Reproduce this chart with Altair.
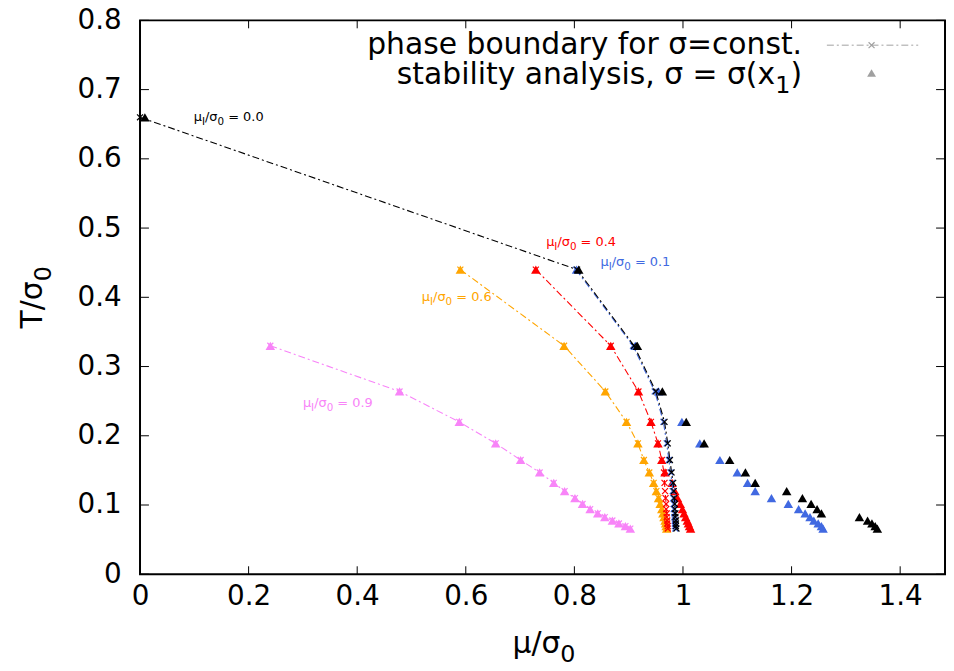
import altair as alt
import pandas as pd

# ---------------- data ----------------
X_TICKS = [0, 0.2, 0.4, 0.6, 0.8, 1.0, 1.2, 1.4]
Y_TICKS = [0, 0.1, 0.2, 0.3, 0.4, 0.5, 0.6, 0.7, 0.8]

# temperature levels T/sigma0
T_BLACK = [0.66, 0.44, 0.33, 0.264, 0.22, 0.189, 0.165, 0.147, 0.132, 0.12, 0.11,
           0.1015, 0.094, 0.088, 0.0825, 0.0776, 0.0733, 0.0695, 0.066]
T_MAIN = [0.44, 0.33, 0.264, 0.22, 0.189, 0.165, 0.147, 0.132, 0.12, 0.11,
          0.1015, 0.094, 0.088, 0.0825, 0.0776, 0.0733, 0.0695, 0.066]
T_VIOLET = [0.33, 0.264, 0.22, 0.189, 0.165, 0.147, 0.132, 0.12, 0.11,
            0.1015, 0.094, 0.088, 0.0825, 0.0776, 0.0733, 0.0695, 0.066]

# mu_I/sigma0 = 0.0 (black)
B00_X = [0.0, 0.805, 0.910, 0.950, 0.966, 0.972, 0.976, 0.979, 0.982, 0.983, 0.984,
         0.985, 0.985, 0.986, 0.986, 0.987, 0.987, 0.987, 0.988]
S00_X = [0.009, 0.808, 0.916, 0.962, 1.006, 1.039, 1.086, 1.115, 1.133, 1.191, 1.220,
         1.236, 1.247, 1.255, 1.325, 1.340, 1.348, 1.354, 1.358]
# mu_I/sigma0 = 0.1 (blue)
B01_X = [0.803, 0.908, 0.948, 0.964, 0.970, 0.974, 0.977, 0.980, 0.981, 0.982,
         0.983, 0.983, 0.984, 0.984, 0.985, 0.985, 0.985, 0.986]
S01_X = [0.804, 0.912, 0.955, 0.998, 1.031, 1.068, 1.100, 1.119, 1.133, 1.163,
         1.194, 1.213, 1.225, 1.234, 1.241, 1.249, 1.255, 1.258]
# mu_I/sigma0 = 0.4 (red)
B04_X = [0.729, 0.867, 0.918, 0.941, 0.954, 0.961, 0.965, 0.966, 0.967, 0.968,
         0.969, 0.969, 0.970, 0.970, 0.971, 0.971, 0.972, 0.972]
S04_X = [0.729, 0.867, 0.918, 0.941, 0.954, 0.961, 0.967, 0.980, 0.985, 0.990,
         0.995, 0.999, 1.002, 1.005, 1.008, 1.010, 1.012, 1.014]
# mu_I/sigma0 = 0.6 (orange)
B06_X = [0.590, 0.781, 0.857, 0.896, 0.917, 0.928, 0.938, 0.946, 0.951, 0.955,
         0.958, 0.961, 0.963, 0.965, 0.967, 0.968, 0.969, 0.970]
S06_X = [0.590, 0.781, 0.857, 0.896, 0.917, 0.928, 0.938, 0.946, 0.951, 0.955,
         0.958, 0.961, 0.963, 0.965, 0.967, 0.968, 0.969, 0.970]
# mu_I/sigma0 = 0.9 (violet)
B09_X = [0.240, 0.478, 0.588, 0.655, 0.701, 0.736, 0.762, 0.782, 0.801, 0.815,
         0.829, 0.843, 0.856, 0.870, 0.882, 0.894, 0.903]
S09_X = [0.240, 0.478, 0.588, 0.655, 0.701, 0.736, 0.762, 0.782, 0.801, 0.815,
         0.829, 0.843, 0.856, 0.870, 0.882, 0.894, 0.903]

SERIES = ["0.9", "0.6", "0.4", "0.1", "0.0"]          # drawing order
COLORS = {"0.0": "#000000", "0.1": "#4169e1", "0.4": "#ff0000",
          "0.6": "#ffa500", "0.9": "#f884f8"}
SERIES_DATA = {
    "0.0": (T_BLACK, B00_X, S00_X),
    "0.1": (T_MAIN, B01_X, S01_X),
    "0.4": (T_MAIN, B04_X, S04_X),
    "0.6": (T_MAIN, B06_X, S06_X),
    "0.9": (T_VIOLET, B09_X, S09_X),
}

# curve labels (left/baseline anchor in data units)
LABEL_VAL = ["0.0", "0.4", "0.1", "0.6", "0.9"]
LABEL_X = [0.099, 0.748, 0.848, 0.519, 0.300]
LABEL_Y = [0.655, 0.4735, 0.445, 0.395, 0.242]

LEGEND_TEXT_1 = "phase boundary for σ=const."
LEGEND_TEXT_2 = [("stability analysis, σ = σ(x", False), ("1", True), (")", False)]

# ---------------- layout ----------------
W, H = 811, 558
XMAX = 1.4826
FONT = "DejaVu Sans"
SUB = 0.8
DASH = [7, 3, 2, 3]
CROSS = "M-1,-1L1,1M-1,1L1,-1"
TOP = 10  # plot top = 8 + TOP

xs = alt.Scale(domain=[0, XMAX], nice=False, zero=False)
ys = alt.Scale(domain=[0, 0.8], nice=False, zero=False)
xaxis = alt.Axis(values=X_TICKS, format="~g", title=None, labelFont=FONT, labelFontSize=28,
                 labelColor="black", ticks=False, domain=False, grid=False, labelPadding=8,
                 labelFlush=False, labelOverlap=False)
yaxis = alt.Axis(values=Y_TICKS, format="~g", title=None, labelFont=FONT, labelFontSize=28,
                 labelColor="black", ticks=False, domain=False, grid=False, labelPadding=19,
                 labelFlush=False, labelOverlap=False)


def X(f):
    return alt.X(f, scale=xs, axis=xaxis)


def Y(f):
    return alt.Y(f, scale=ys, axis=yaxis)


CW = {" ": .318, ".": .318, "/": .337, "=": .838, "(": .390, ")": .390, ",": .318,
      "μ": .635, "σ": .635, "T": .611, "I": .295,
      "a": .613, "b": .635, "c": .550, "d": .635, "e": .615, "f": .352, "g": .635,
      "h": .634, "i": .278, "j": .278, "k": .579, "l": .278, "m": .974, "n": .634,
      "o": .612, "p": .635, "q": .635, "r": .411, "s": .521, "t": .392, "u": .634,
      "v": .592, "w": .818, "x": .592, "y": .592, "z": .525}


def tw(s):
    return sum(CW.get(c, .636) for c in s)


def rich(parts, size, color, align, enc, data, angle=0):
    widths = [tw(t) * size * (SUB if sub else 1) for t, sub in parts]
    total = sum(widths)
    off = {"left": 0, "center": -total / 2, "right": -total}[align]
    out = []
    for (t, sub), w in zip(parts, widths):
        fs = size * (SUB if sub else 1)
        stripped = t.lstrip(" ")
        lead = tw(t[: len(t) - len(stripped)]) * fs
        out.append(
            alt.Chart(data).mark_text(text=stripped, align="left", baseline="alphabetic",
                                      font=FONT, fontSize=fs, color=color, dx=off + lead,
                                      dy=size * 0.3 if sub else 0, angle=angle).encode(**enc)
        )
        off += w
    return out


layers = []

# inner ticks (gnuplot style, mirrored)
xt = pd.DataFrame({"v": X_TICKS})
yt = pd.DataFrame({"v": Y_TICKS})
layers.append(alt.Chart(xt).mark_rule(color="black", strokeWidth=1).encode(
    x=X("v:Q"), y=alt.value(H), y2=alt.value(H - 8)))
layers.append(alt.Chart(xt).mark_rule(color="black", strokeWidth=1).encode(
    x=X("v:Q"), y=alt.value(0), y2=alt.value(8)))
layers.append(alt.Chart(yt).mark_rule(color="black", strokeWidth=1).encode(
    y=Y("v:Q"), x=alt.value(0), x2=alt.value(9)))
layers.append(alt.Chart(yt).mark_rule(color="black", strokeWidth=1).encode(
    y=Y("v:Q"), x=alt.value(W), x2=alt.value(W - 9)))

# series
for s in SERIES:
    T, bx, sx = SERIES_DATA[s]
    col = COLORS[s]
    bd = pd.DataFrame({"x": bx, "T": T, "i": list(range(len(T)))})
    sd = pd.DataFrame({"x": sx, "T": T})
    layers.append(alt.Chart(bd).mark_line(color=col, strokeWidth=1.1, strokeDash=DASH).encode(
        x=X("x:Q"), y=Y("T:Q"), order="i:Q"))
    layers.append(alt.Chart(bd).mark_point(shape=CROSS, size=36, filled=False, color=col,
                                           strokeWidth=1.2, opacity=1).encode(
        x=X("x:Q"), y=Y("T:Q")))
    layers.append(alt.Chart(sd).mark_point(shape="triangle-up", size=92, filled=True,
                                           color=col, opacity=1, strokeWidth=0).encode(
        x=X("x:Q"), y=Y("T:Q")))

# curve labels
for v, lx, ly in zip(LABEL_VAL, LABEL_X, LABEL_Y):
    d = pd.DataFrame({"lx": [lx], "ly": [ly]})
    parts = [("μ", False), ("I", True), ("/σ", False), ("0", True), (" = " + v, False)]
    layers += rich(parts, 13, COLORS[v], "left", {"x": X("lx:Q"), "y": Y("ly:Q")}, d)

one = pd.DataFrame({"k": [0]})
PT = 8 + TOP  # page y of the plot top
PL = 141      # page x of the plot left

# legend
layers.append(alt.Chart(one).mark_text(text=LEGEND_TEXT_1, align="right", baseline="alphabetic",
                                       font=FONT, fontSize=30, color="black").encode(
    x=alt.value(808 - PL), y=alt.value(52 - PT)))
layers += rich(LEGEND_TEXT_2, 30, "black", "right",
               {"x": alt.value(808 - PL), "y": alt.value(82 - PT)}, one)
layers.append(alt.Chart(one).mark_rule(color="#a0a0a0", strokeWidth=1, strokeDash=DASH).encode(
    x=alt.value(833 - PL), x2=alt.value(925 - PL), y=alt.value(43 - PT)))
layers.append(alt.Chart(one).mark_point(shape=CROSS, size=36, filled=False, color="#a0a0a0",
                                        strokeWidth=1.2, opacity=1).encode(
    x=alt.value(878 - PL), y=alt.value(43 - PT)))
layers.append(alt.Chart(one).mark_point(shape="triangle-up", size=80, filled=True,
                                        color="#a0a0a0", opacity=1).encode(
    x=alt.value(878 - PL), y=alt.value(71 - PT)))

# axis titles
layers += rich([("μ/σ", False), ("0", True)], 30, "black", "center",
               {"x": alt.value(548 - PL), "y": alt.value(655 - PT)}, one)
layers += rich([("T/σ", False), ("0", True)], 30, "black", "center",
               {"x": alt.value(42 - PL), "y": alt.value(297 - PT)}, one, angle=270)

chart = alt.layer(*layers).properties(
    width=W, height=H,
    padding={"left": PL - 8, "top": TOP, "right": 1, "bottom": 92},
    autosize=alt.AutoSizeParams(type="none"),
    background="white",
).configure_view(stroke="black", strokeWidth=2)

chart.save("out.html", embed_options={"renderer": "svg", "actions": False})
